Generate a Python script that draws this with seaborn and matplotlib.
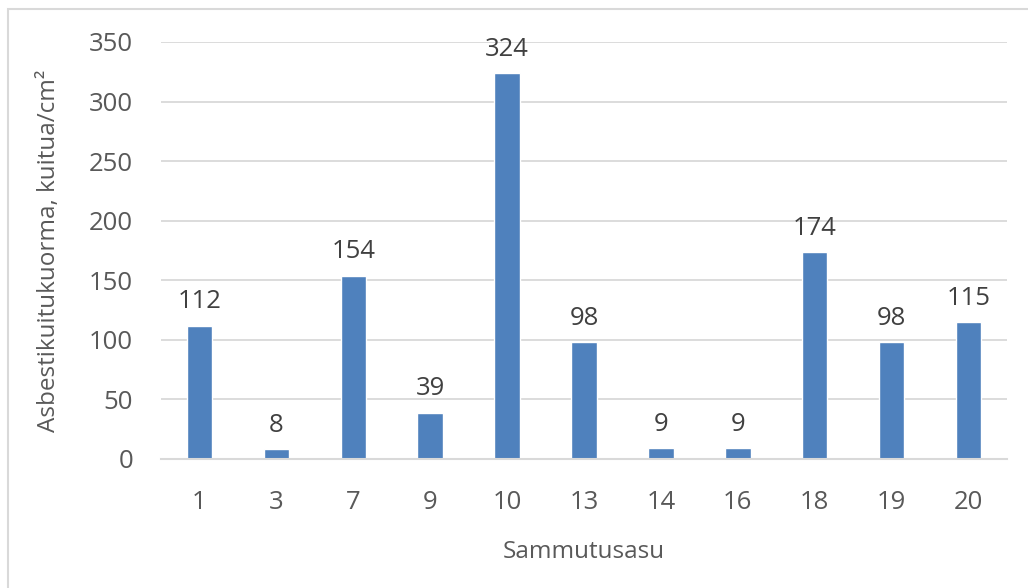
import matplotlib
matplotlib.use('Agg')
import matplotlib.pyplot as plt
import seaborn as sns
import pandas as pd
from matplotlib.patches import Rectangle

categories = ['1', '3', '7', '9', '10', '13', '14', '16', '18', '19', '20']
values = [112, 8, 154, 39, 324, 98, 9, 9, 174, 98, 115]
y_ticks = [0, 50, 100, 150, 200, 250, 300, 350]

sns.set_theme(style='white')
plt.rcParams['font.family'] = ['Open Sans', 'DejaVu Sans']

df = pd.DataFrame({'Sammutusasu': categories, 'Kuorma': values})

fig = plt.figure(figsize=(10.28, 5.88), dpi=100)
ax = fig.add_axes([0.1566, 0.2194, 0.823, 0.7092])

sns.barplot(data=df, x='Sammutusasu', y='Kuorma', order=categories,
            color='#4F81BD', saturation=1, width=0.33, ax=ax)

ax.set_ylim(0, 350)
ax.set_yticks(y_ticks)
ax.yaxis.grid(True, color='#D9D9D9', linewidth=1.3)
ax.set_axisbelow(True)
for s in ['top', 'right', 'left']:
    ax.spines[s].set_visible(False)
ax.spines['bottom'].set_color('#D9D9D9')
ax.spines['bottom'].set_linewidth(1.5)
ax.tick_params(axis='both', length=0, labelsize=18.5, colors='#595959')
ax.tick_params(axis='x', pad=22)
ax.tick_params(axis='y', pad=20)

for i, v in enumerate(values):
    ax.annotate(str(v), (i, v), xytext=(0, 8), textcoords='offset points',
                ha='center', va='bottom', fontsize=18.5, color='#404040')

ax.set_xlabel('Sammutusasu', fontsize=17.5, color='#595959', labelpad=18)
ax.set_ylabel('Asbestikuitukuorma, kuitua/cm²', fontsize=17.5, color='#595959', labelpad=20)

fig.patches.append(Rectangle((8 / 1028, -0.1), 1.2, 1 - 9 / 588 + 0.1,
                             transform=fig.transFigure, fill=False,
                             edgecolor='#D9D9D9', linewidth=1.5))

fig.savefig('out.png', dpi=100)
